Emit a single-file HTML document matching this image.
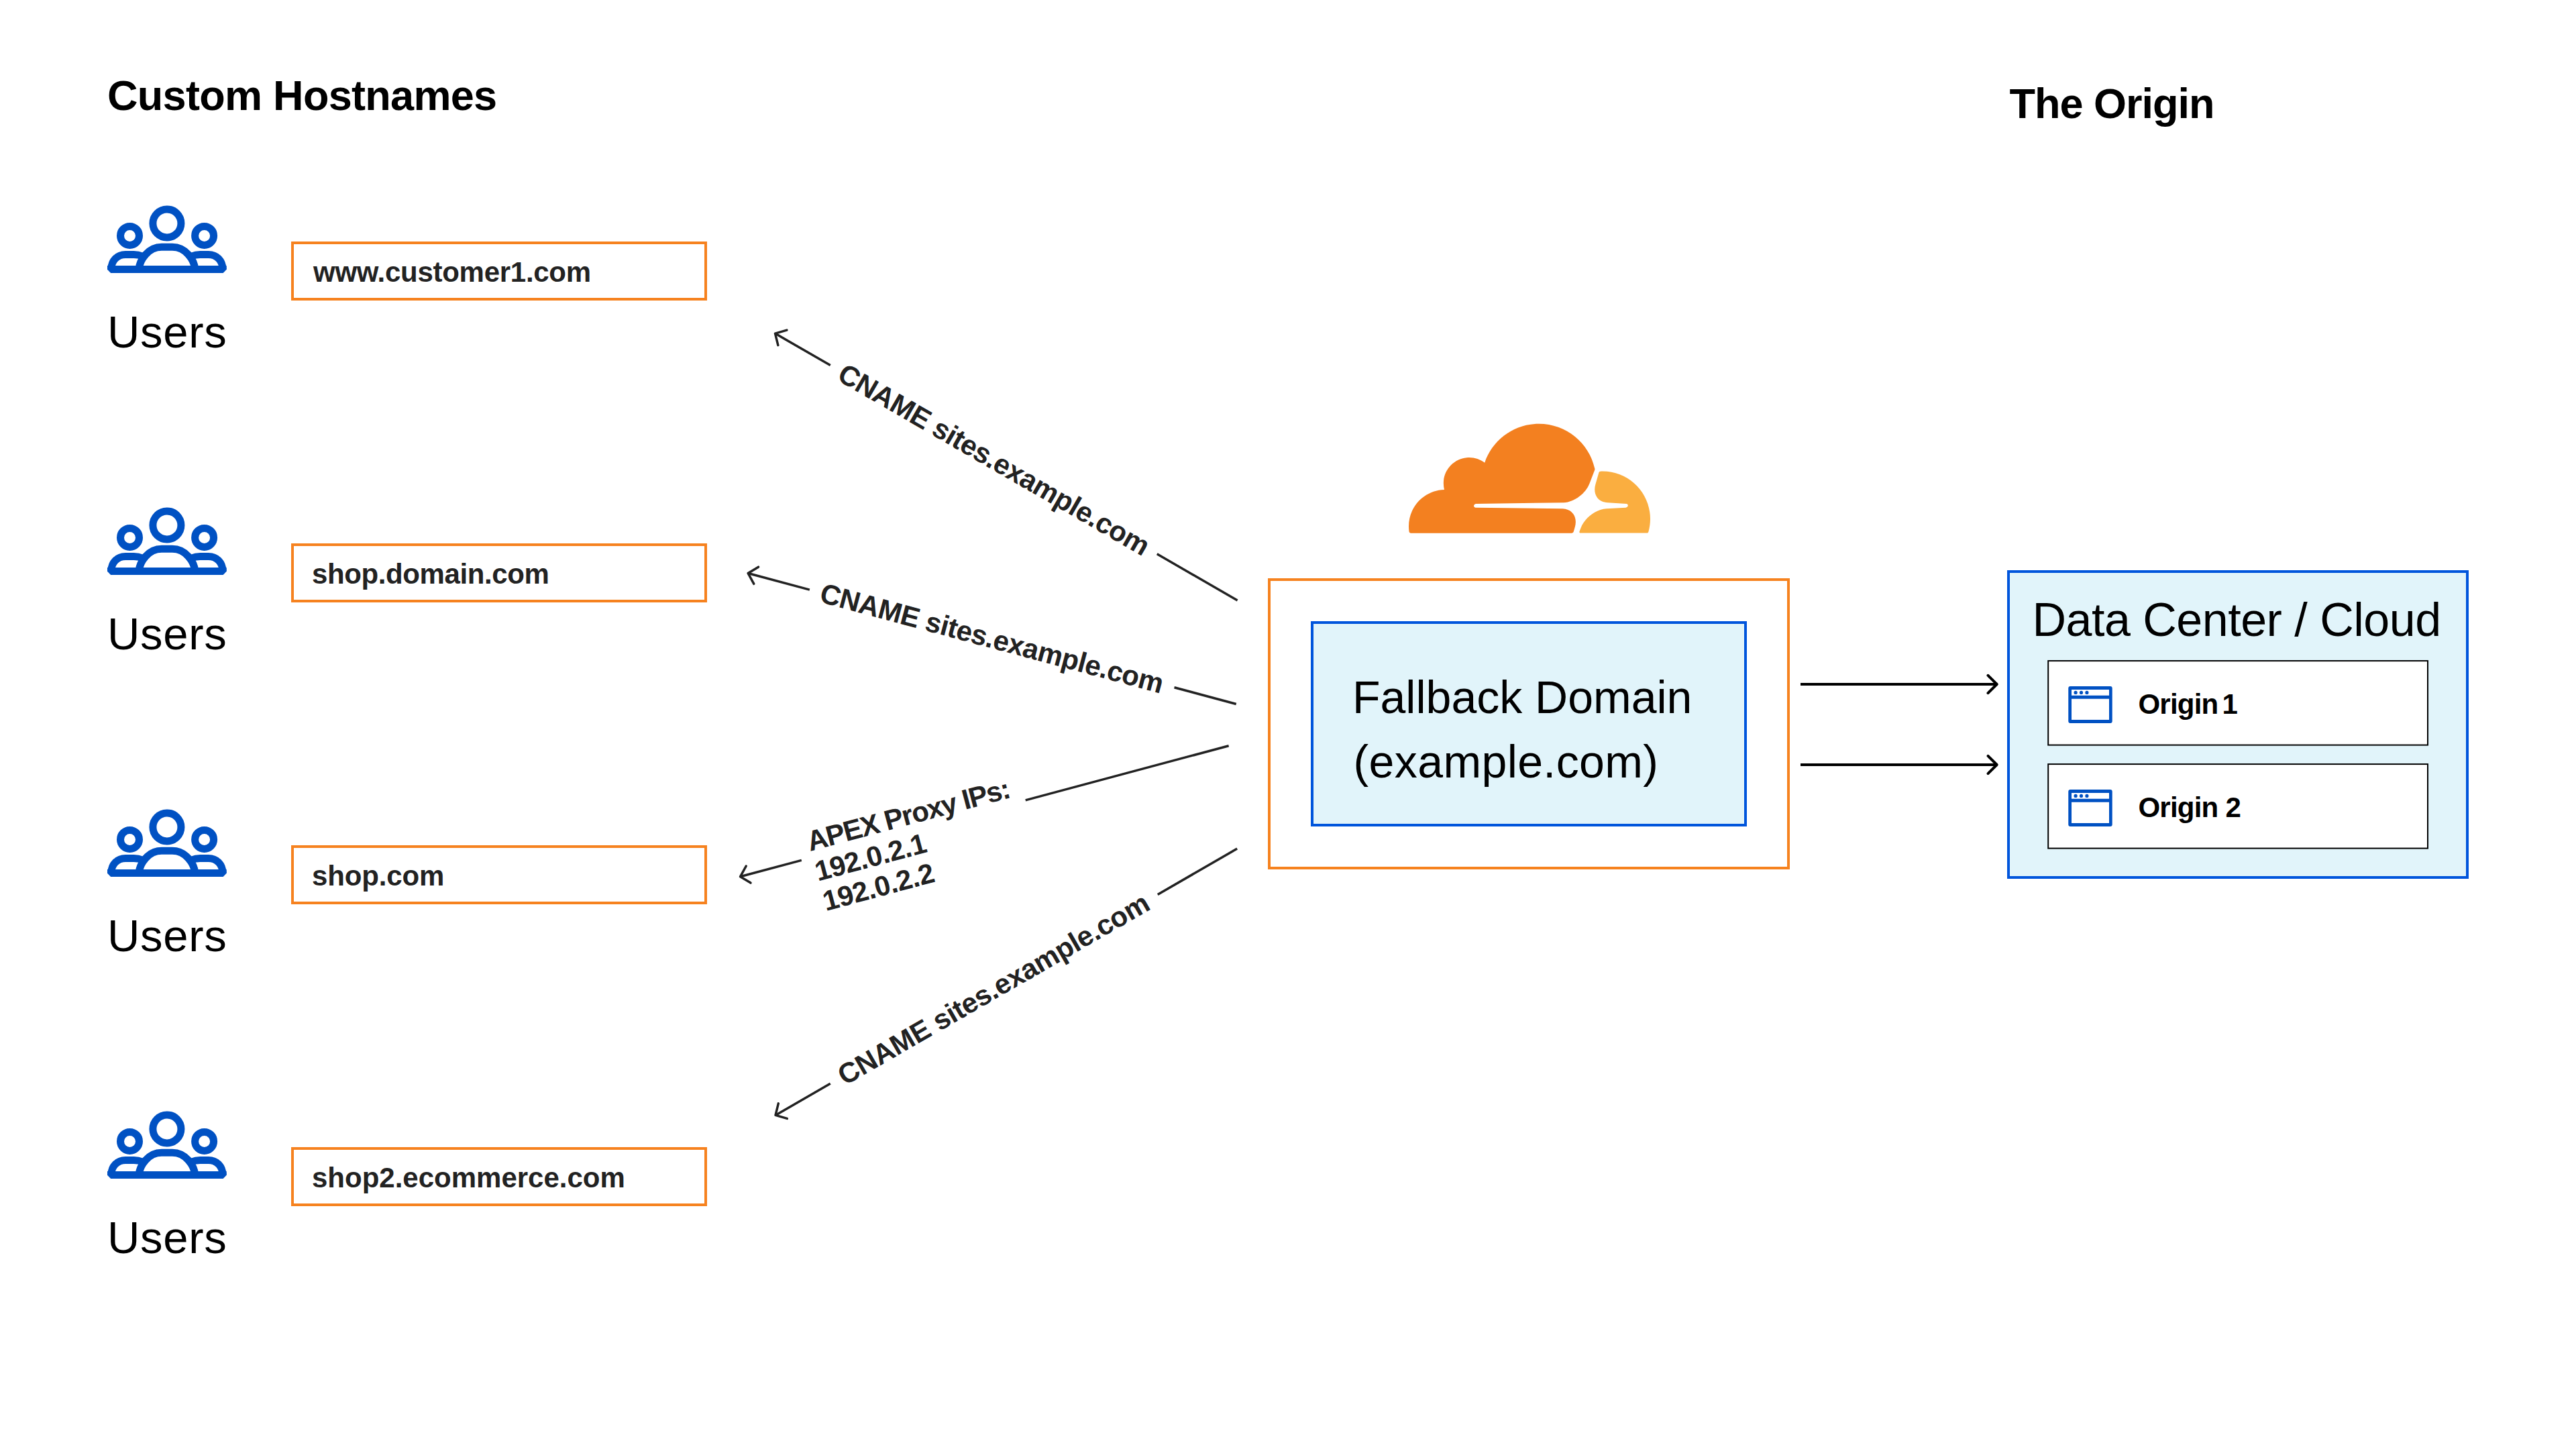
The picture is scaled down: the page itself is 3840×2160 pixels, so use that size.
<!DOCTYPE html>
<html><head><meta charset="utf-8"><style>
html,body{margin:0;padding:0;background:#fff;width:3840px;height:2160px;overflow:hidden}
svg{display:block;font-family:"Liberation Sans", sans-serif}
</style></head><body>
<svg width="3840" height="2160" viewBox="0 0 3840 2160">
<defs>
<g id="users" fill="none" stroke="#0051C3" stroke-width="11">
<circle cx="248.9" cy="332.9" r="21"/>
<circle cx="193.5" cy="351.4" r="14"/>
<circle cx="304.6" cy="351.4" r="14"/>
<path d="M206.9 401.5 C208.5 387 221 368.3 240.9 368.3 H256.9 C276.8 368.3 289.3 387 290.9 401.5"/>
<path d="M165.6 401.5 C166.3 388 175 379.45 187 379.45 H199.5 C204 379.45 208 380.2 212.5 382"/>
<path d="M332.2 401.5 C331.5 388 322.8 379.45 310.8 379.45 H298.3 C293.8 379.45 289.8 380.2 285.3 382"/>
<path d="M160 396.1 H337.7 V401.8 L332.6 406.9 H165.1 L160 401.8 Z" fill="#0051C3" stroke="none"/>
</g>
<g id="browser">
<path fill="#0051C3" fill-rule="evenodd" d="M3086.25 1023 H3145.7 Q3148.7 1023 3148.7 1026 V1074.9 Q3148.7 1077.9 3145.7 1077.9 H3086.25 Q3083.25 1077.9 3083.25 1074.9 V1026 Q3083.25 1023 3086.25 1023 Z M3088 1028 V1036.8 H3144 V1028 Z M3088 1041.8 V1073 H3144 V1041.8 Z"/>
<circle cx="3094.1" cy="1032.4" r="2.6" fill="#0051C3"/>
<circle cx="3102.5" cy="1032.4" r="2.6" fill="#0051C3"/>
<circle cx="3110.9" cy="1032.4" r="2.6" fill="#0051C3"/>
</g>
</defs>
<text x="160" y="163.6" font-size="63" font-weight="700" letter-spacing="-0.7" fill="#000">Custom Hostnames</text>
<text x="2995.5" y="176.1" font-size="63" font-weight="700" letter-spacing="-1.0" fill="#000">The Origin</text>
<use href="#users" transform="translate(0,0)"/>
<text x="160" y="517.7" font-size="67" letter-spacing="0.7" fill="#000">Users</text>
<rect x="436" y="362" width="616" height="84" fill="none" stroke="#F6821F" stroke-width="4"/>
<text x="467" y="420" font-size="42" font-weight="700" letter-spacing="-0.28" fill="#222222">www.customer1.com</text>
<use href="#users" transform="translate(0,450)"/>
<text x="160" y="967.7" font-size="67" letter-spacing="0.7" fill="#000">Users</text>
<rect x="436" y="812" width="616" height="84" fill="none" stroke="#F6821F" stroke-width="4"/>
<text x="465" y="870" font-size="42" font-weight="700" letter-spacing="-0.4" fill="#222222">shop.domain.com</text>
<use href="#users" transform="translate(0,900)"/>
<text x="160" y="1417.7" font-size="67" letter-spacing="0.7" fill="#000">Users</text>
<rect x="436" y="1262" width="616" height="84" fill="none" stroke="#F6821F" stroke-width="4"/>
<text x="465" y="1320" font-size="42" font-weight="700" letter-spacing="-0.15" fill="#222222">shop.com</text>
<use href="#users" transform="translate(0,1350)"/>
<text x="160" y="1867.7" font-size="67" letter-spacing="0.7" fill="#000">Users</text>
<rect x="436" y="1712" width="616" height="84" fill="none" stroke="#F6821F" stroke-width="4"/>
<text x="465" y="1770" font-size="42" font-weight="700" letter-spacing="0.0" fill="#222222">shop2.ecommerce.com</text>
<g transform="translate(2100,533.25) scale(15)">
<path fill="#F38020" d="M16.5088 16.8447c.1475-.5068.0908-.9707-.1553-1.3154-.2246-.3164-.6045-.5-1.0615-.5215l-8.6592-.1123a.1559.1559 0 0 1-.1333-.0713c-.0283-.042-.0351-.0986-.021-.1553.0278-.084.1123-.1484.2036-.1562l8.7359-.1123c1.0351-.0489 2.1601-.8868 2.5537-1.9136l.499-1.3013c.0215-.0561.0293-.1128.0147-.168-.5625-2.5463-2.835-4.4453-5.5499-4.4453-2.5039 0-4.6284 1.6177-5.3876 3.8614-.4927-.3658-1.1187-.5625-1.794-.499-1.2026.119-2.1665 1.083-2.2861 2.2856-.0283.31-.0069.6128.0635.894C1.5683 13.171 0 14.7754 0 16.752c0 .1748.0142.3515.0352.5273.0141.083.0844.1475.1689.1475h15.9814c.0909 0 .1758-.0645.2032-.1553l.12-.4268z"/>
<path fill="#FAAE40" d="M19.2656 11.2813c-.0771 0-.1611 0-.2383.0112-.0566 0-.1054.0415-.127.0976l-.3378 1.1744c-.1475.5068-.0918.9707.1543 1.3164.2256.3164.6055.498 1.0625.5195l1.8437.1133c.0557 0 .1055.0263.1329.0703.0283.043.0351.1074.0214.1562-.0283.084-.1132.1485-.204.1553l-1.921.1123c-1.041.0488-2.1582.8867-2.5527 1.914l-.1406.3585c-.0283.0713.0215.1416.0986.1416h6.5977c.0771 0 .1474-.0489.169-.126.1122-.4082.1757-.837.1757-1.2803 0-2.6025-2.125-4.727-4.7344-4.727"/>
</g>
<rect x="1892" y="864" width="774" height="430" fill="none" stroke="#F6821F" stroke-width="4"/>
<rect x="1956" y="928" width="646" height="302" fill="#E1F4FA" stroke="#0055DC" stroke-width="4"/>
<text x="2016" y="1062.6" font-size="68" fill="#000">Fallback Domain</text>
<text x="2017.5" y="1158.7" font-size="68" letter-spacing="0.4" fill="#000">(example.com)</text>
<path d="M2684 1020 H2976.5" stroke="#000" stroke-width="4" fill="none"/>
<path d="M2963.5 1006.8 L2976.7 1020 L2963.5 1033.2" stroke="#000" stroke-width="4" fill="none" stroke-linecap="round" stroke-linejoin="round"/>
<path d="M2684 1140 H2976.5" stroke="#000" stroke-width="4" fill="none"/>
<path d="M2963.5 1126.8 L2976.7 1140 L2963.5 1153.2" stroke="#000" stroke-width="4" fill="none" stroke-linecap="round" stroke-linejoin="round"/>
<rect x="2994" y="852" width="684" height="456" fill="#E1F4FA" stroke="#0055DC" stroke-width="4"/>
<text x="3029.5" y="947.6" font-size="70" letter-spacing="-0.5" fill="#000">Data Center / Cloud</text>
<rect x="3053.2" y="985.1" width="565.8" height="125.5" fill="#fff" stroke="#000" stroke-width="2"/>
<use href="#browser" transform="translate(0,0)"/>
<text x="3187.5" y="1063.9" font-size="42" font-weight="700" letter-spacing="-0.8" fill="#000">Origin</text>
<text x="3312.5" y="1063.9" font-size="42" font-weight="700" fill="#000">1</text>
<rect x="3053.2" y="1139.1" width="565.8" height="125.5" fill="#fff" stroke="#000" stroke-width="2"/>
<use href="#browser" transform="translate(0,154)"/>
<text x="3187.5" y="1217.9" font-size="42" font-weight="700" letter-spacing="-0.8" fill="#000">Origin</text>
<text x="3317.5" y="1217.9" font-size="42" font-weight="700" fill="#000">2</text>
<g transform="translate(1155.5,497.1) rotate(30)">
<path d="M0 0 H95" stroke="#222222" stroke-width="3.5" fill="none"/>
<path d="M657.3 0 H795.7" stroke="#222222" stroke-width="3.5" fill="none"/>
<path d="M12.5 -13 L0 0 L12.5 13" stroke="#222222" stroke-width="3.5" fill="none" stroke-linecap="round" stroke-linejoin="round"/>
<text x="112.5" y="14" font-size="42" font-weight="700" letter-spacing="-0.5" fill="#222222">CNAME sites.example.com</text>
</g>
<g transform="translate(1115.1,854.5) rotate(15)">
<path d="M0 0 H95" stroke="#222222" stroke-width="3.5" fill="none"/>
<path d="M657.8 0 H753.3" stroke="#222222" stroke-width="3.5" fill="none"/>
<path d="M12.5 -13 L0 0 L12.5 13" stroke="#222222" stroke-width="3.5" fill="none" stroke-linecap="round" stroke-linejoin="round"/>
<text x="112.3" y="14" font-size="42" font-weight="700" letter-spacing="-0.5" fill="#222222">CNAME sites.example.com</text>
</g>
<g transform="translate(1103.5,1306.8) rotate(-15)">
<path d="M0 0 H94.5" stroke="#222222" stroke-width="3.5" fill="none"/>
<path d="M440.2 0 H753.8" stroke="#222222" stroke-width="3.5" fill="none"/>
<path d="M12.5 -13 L0 0 L12.5 13" stroke="#222222" stroke-width="3.5" fill="none" stroke-linecap="round" stroke-linejoin="round"/>
<text x="110.3" y="-9.6" font-size="42" font-weight="700" letter-spacing="-1.4" fill="#222222">APEX Proxy IPs:</text>
<text x="109.9" y="36.7" font-size="42" font-weight="700" letter-spacing="-0.6" fill="#222222">192.0.2.1</text>
<text x="109.9" y="82.6" font-size="42" font-weight="700" letter-spacing="-0.6" fill="#222222">192.0.2.2</text>
</g>
<g transform="translate(1156,1662.4) rotate(-30)">
<path d="M0 0 H94.4" stroke="#222222" stroke-width="3.5" fill="none"/>
<path d="M657.9 0 H794.6" stroke="#222222" stroke-width="3.5" fill="none"/>
<path d="M12.5 -13 L0 0 L12.5 13" stroke="#222222" stroke-width="3.5" fill="none" stroke-linecap="round" stroke-linejoin="round"/>
<text x="111.5" y="14" font-size="42" font-weight="700" letter-spacing="-0.5" fill="#222222">CNAME sites.example.com</text>
</g>
</svg>
</body></html>
